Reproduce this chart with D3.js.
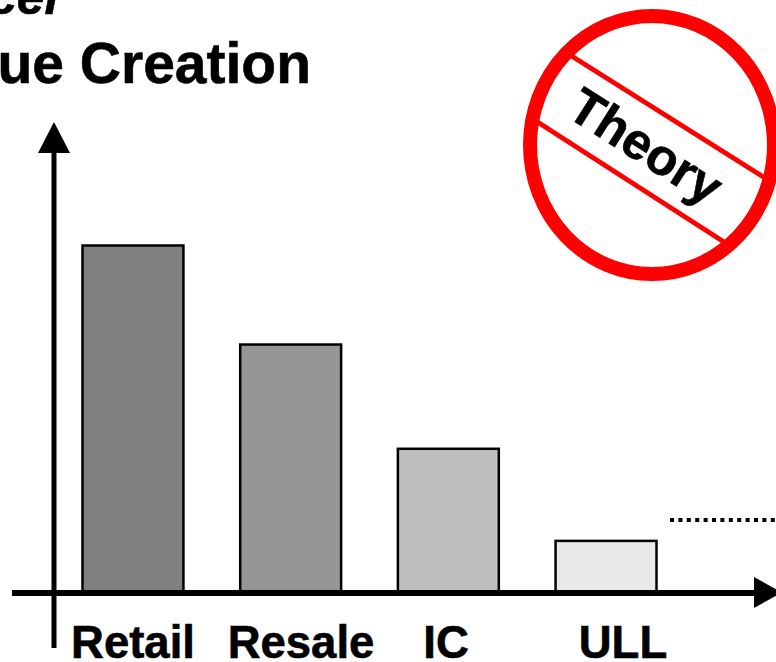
<!DOCTYPE html>
<html>
<head>
<meta charset="utf-8">
<script src="https://cdn.jsdelivr.net/npm/d3@7"></script>
<style>
  html, body { margin: 0; padding: 0; background: #fff; overflow: hidden; }
  svg { display: block; }
  text { font-family: "Liberation Sans", Arial, sans-serif; font-weight: bold; fill: #000; stroke: #000; stroke-width: 0.6; }
</style>
</head>
<body>
<script>
const categories = ["Retail", "Resale", "IC", "ULL"];
const values = [100, 71.5, 41.5, 15];
const barColors = ["#808080", "#969696", "#bebebe", "#e8e8e8"];
const dottedLevel = 21;

let width = 776;
let height = 662;

const svg = d3.select("body").append("svg")
  .attr("width", width)
  .attr("height", height);

const x = d3.scaleBand().domain(categories).range([82.5, 656.5]).paddingInner(0.36).paddingOuter(0);
const y = d3.scaleLinear().domain([0, 100]).range([593, 245.5]);

//Title, cut off by the edge of the picture
svg.append("text")
  .attr("x", 64).attr("y", 14)
  .attr("text-anchor", "end")
  .attr("font-size", 50)
  .attr("font-style", "italic")
  .text("Producer");
svg.append("text")
  .attr("x", 311).attr("y", 83)
  .attr("text-anchor", "end")
  .attr("font-size", 57)
  .text("Value Creation");

//Bars
svg.selectAll("rect.bar")
  .data(categories)
  .enter()
  .append("rect")
  .attr("class", "bar")
  .attr("x", (d) => x(d))
  .attr("y", (d, i) => y(values[i]))
  .attr("width", x.bandwidth())
  .attr("height", (d, i) => y(0) - y(values[i]))
  .attr("fill", (d, i) => barColors[i])
  .attr("stroke", "#000")
  .attr("stroke-width", 2.5);

//Axes
svg.append("line")
  .attr("x1", 12).attr("x2", 758)
  .attr("y1", y(0)).attr("y2", y(0))
  .attr("stroke", "#000").attr("stroke-width", 6);
svg.append("path")
  .attr("d", d3.line()([[754, 577], [782, 592.5], [754, 608]]) + "Z");
svg.append("line")
  .attr("x1", 54).attr("x2", 54)
  .attr("y1", 150).attr("y2", 648)
  .attr("stroke", "#000").attr("stroke-width", 5);
svg.append("path")
  .attr("d", d3.line()([[38, 153], [54, 122], [70, 153]]) + "Z");

//Dotted level
svg.append("line")
  .attr("x1", 670).attr("x2", 776)
  .attr("y1", y(dottedLevel)).attr("y2", y(dottedLevel))
  .attr("stroke", "#000").attr("stroke-width", 4)
  .attr("stroke-dasharray", "4 4.4");

//Category labels
const labelX = [133, 301, 446, 623];
svg.selectAll("text.label")
  .data(categories)
  .enter()
  .append("text")
  .attr("class", "label")
  .attr("x", (d, i) => labelX[i])
  .attr("y", 658)
  .attr("text-anchor", "middle")
  .attr("font-size", 45.5)
  .text((d) => d);

//No theory sign
const sign = svg.append("g");
sign.append("ellipse")
  .attr("cx", 652).attr("cy", 145)
  .attr("rx", 122).attr("ry", 129)
  .attr("fill", "none")
  .attr("stroke", "#f00")
  .attr("stroke-width", 14);
sign.append("line")
  .attr("x1", 570).attr("y1", 55).attr("x2", 765).attr("y2", 178)
  .attr("stroke", "#f00").attr("stroke-width", 5);
sign.append("line")
  .attr("x1", 536).attr("y1", 121).attr("x2", 724).attr("y2", 242)
  .attr("stroke", "#f00").attr("stroke-width", 5);
sign.append("text")
  .attr("transform", "translate(646,146) rotate(32.5)")
  .attr("text-anchor", "middle")
  .attr("dy", "0.35em")
  .attr("font-size", 51)
  .text("Theory");
</script>
</body>
</html>
